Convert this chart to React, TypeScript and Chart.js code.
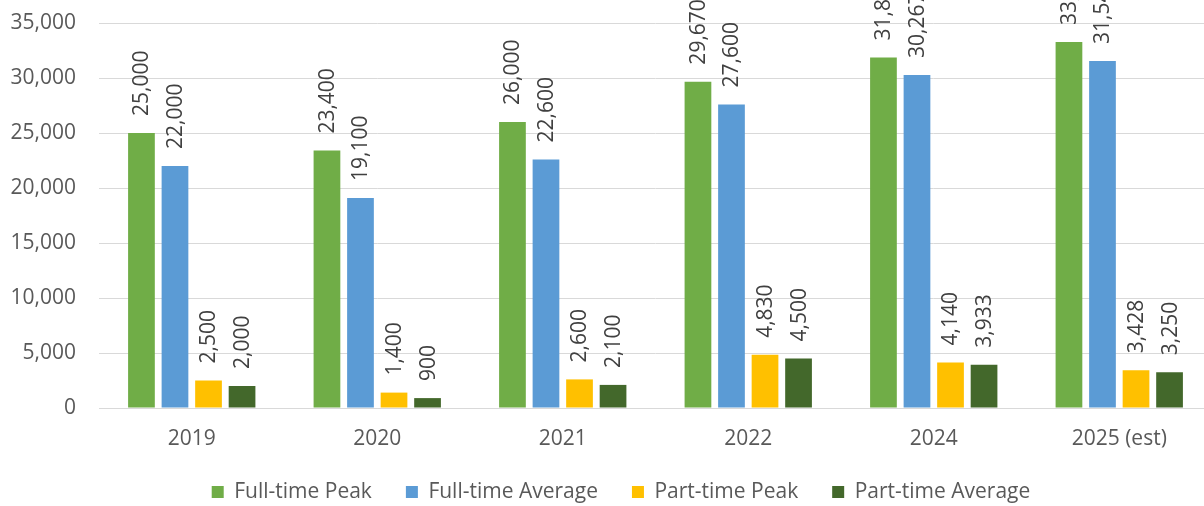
import React, { useEffect, useRef } from "react";
import { Chart, registerables } from "chart.js";

Chart.register(...registerables);

const categories = ["2019", "2020", "2021", "2022", "2024", "2025 (est)"];
const fullTimePeak = [25000, 23400, 26000, 29670, 31870, 33265];
const fullTimeAverage = [22000, 19100, 22600, 27600, 30267, 31540];
const partTimePeak = [2500, 1400, 2600, 4830, 4140, 3428];
const partTimeAverage = [2000, 900, 2100, 4500, 3933, 3250];
const yTicks = [0, 5000, 10000, 15000, 20000, 25000, 30000, 35000];

const FONT = "'Open Sans', 'DejaVu Sans', sans-serif";
const FONT_SIZE = 21;
const fmt = (v: number) => v.toLocaleString("en-US");

// Rotated value labels above each bar
const barValueLabels = {
  id: "barValueLabels",
  afterDatasetsDraw(chart: any) {
    const ctx = chart.ctx;
    ctx.save();
    ctx.font = `${FONT_SIZE}px ${FONT}`;
    ctx.fillStyle = "#404040";
    ctx.textAlign = "left";
    ctx.textBaseline = "middle";
    chart.data.datasets.forEach((ds: any, i: number) => {
      const meta = chart.getDatasetMeta(i);
      meta.data.forEach((el: any, j: number) => {
        ctx.save();
        ctx.translate(el.x + 1, el.y - 17);
        ctx.rotate(-Math.PI / 2);
        ctx.fillText(fmt(ds.data[j]), 0, 0);
        ctx.restore();
      });
    });
    ctx.restore();
  },
};

// Compact legend block, nudged to sit under the full chart width
const legendLayout = {
  id: "legendLayout",
  beforeLayout(chart: any) {
    const legend = chart.legend;
    if (legend && !legend.__compact) {
      const fit = legend.fit;
      legend.fit = function () {
        fit.call(this);
        this.height = 58.5;
      };
      legend.__compact = true;
    }
  },
  afterLayout(chart: any) {
    const legend = chart.legend;
    if (legend) {
      legend.left += 15;
      legend.right += 15;
    }
  },
};

export default function App() {
  const canvasRef = useRef<HTMLCanvasElement | null>(null);

  useEffect(() => {
    if (!canvasRef.current) return;
    const chart = new Chart(canvasRef.current, {
      type: "bar",
      data: {
        labels: categories,
        datasets: [
          { label: "Full-time Peak", data: fullTimePeak, backgroundColor: "#70AD47" },
          { label: "Full-time Average", data: fullTimeAverage, backgroundColor: "#5B9BD5" },
          { label: "Part-time Peak", data: partTimePeak, backgroundColor: "#FFC000" },
          { label: "Part-time Average", data: partTimeAverage, backgroundColor: "#43682B" },
        ],
      },
      options: {
        animation: false,
        responsive: true,
        maintainAspectRatio: false,
        layout: { padding: { top: 23, left: 0, right: 0, bottom: 0 } },
        datasets: {
          bar: { categoryPercentage: 0.723, barPercentage: 0.797 },
        },
        scales: {
          x: {
            afterFit: (scale: any) => {
              scale.height = 39.5;
            },
            grid: { display: false, drawTicks: false },
            border: { display: true, color: "#d9d9d9", width: 1 },
            ticks: { color: "#595959", font: { family: FONT, size: FONT_SIZE }, padding: 18 },
          },
          y: {
            min: 0,
            max: 35000,
            afterBuildTicks: (scale: any) => {
              scale.ticks = yTicks.map((v) => ({ value: v }));
            },
            afterFit: (scale: any) => {
              scale.width = 99;
              scale.paddingTop = 0;
              scale.paddingBottom = 0;
            },
            grid: { color: "#d9d9d9", lineWidth: 1, drawTicks: false },
            border: { display: false },
            ticks: {
              color: "#595959",
              font: { family: FONT, size: FONT_SIZE },
              padding: 23,
              callback: (v: any) => fmt(Number(v)),
            },
          },
        },
        plugins: {
          tooltip: { enabled: false },
          legend: {
            position: "bottom",
            labels: {
              boxWidth: 12,
              boxHeight: 12,
              padding: 34,
              color: "#595959",
              font: { family: FONT, size: FONT_SIZE },
            },
          },
        },
      },
      plugins: [barValueLabels, legendLayout],
    });
    return () => chart.destroy();
  }, []);

  return (
    <div
      style={{
        position: "fixed",
        left: 0,
        top: 0,
        width: 1204,
        height: 506,
        overflow: "hidden",
        background: "#ffffff",
      }}
    >
      <div style={{ position: "relative", width: 1212, height: 506 }}>
        <canvas ref={canvasRef} />
      </div>
    </div>
  );
}
